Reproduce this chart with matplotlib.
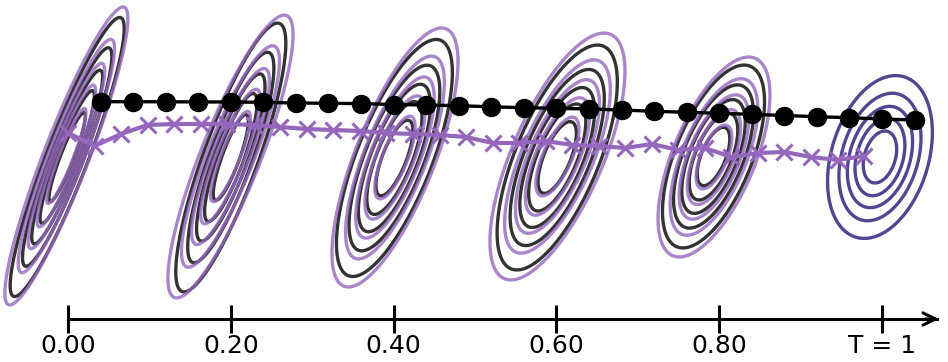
import numpy as np
import matplotlib
matplotlib.use("Agg")
import matplotlib.pyplot as plt

# time grid shown on the axis
tick_times = [0.0, 0.2, 0.4, 0.6, 0.8, 1.0]
tick_labels = ["0.00", "0.20", "0.40", "0.60", "0.80", "T = 1"]

# black mean path (dots), state values (rows, downward)
mean_times = np.arange(1, 27) * 0.04
mean_state = [101.7, 101.7, 101.8, 101.9, 102.0, 102.3, 103.0, 103.3, 103.6, 104.5,
              105.0, 105.7, 106.8, 107.7, 108.3, 109.0, 110.0, 111.3, 112.3, 113.3,
              114.3, 115.5, 116.7, 117.7, 119.0, 120.0]

# purple learned path (crosses)
learned_times = np.linspace(0.0, 0.978, 31)
learned_state = [133, 146, 134, 125, 124, 124, 124, 125, 127, 129,
                 130, 131, 133, 134, 135, 137, 143, 143, 141, 145,
                 146, 148, 144, 150, 148, 157, 153, 152, 157, 160, 156]

# gaussian marginals: centre time, centre state, sd in time, sd in state, correlation
ref_t = [-0.001, 0.200, 0.401, 0.601, 0.793]
ref_y = [157.0, 157.5, 158.0, 157.5, 156.5]
ref_sdt = [0.0370, 0.0357, 0.0376, 0.0390, 0.0331]
ref_sdy = [73.7, 71.0, 62.6, 59.4, 48.3]
ref_rho = [-0.92, -0.85, -0.72, -0.67, -0.60]

fit_t = [-0.002, 0.1996, 0.4017, 0.6013, 0.7936]
fit_y = [156.0, 156.5, 157.5, 156.5, 157.0]
fit_sdt = [0.0399, 0.0406, 0.0409, 0.0438, 0.0363]
fit_sdy = [78.7, 74.7, 68.4, 65.2, 52.8]
fit_rho = [-0.92, -0.86, -0.74, -0.69, -0.62]

target_t, target_y, target_sdt, target_sdy, target_rho = 0.9975, 157.0, 0.034, 43.0, -0.30

levels = [1 / 6, 2 / 6, 3 / 6, 4 / 6, 5 / 6]


def gauss_contour(ax, mt, my, sdt, sdy, rho, **kw):
    tt = np.linspace(mt - 2.6 * sdt, mt + 2.6 * sdt, 400)
    yy = np.linspace(my - 2.6 * sdy, my + 2.6 * sdy, 400)
    T, Y = np.meshgrid(tt, yy)
    dx = (T - mt) / sdt
    dy = (Y - my) / sdy
    q = (dx ** 2 - 2 * rho * dx * dy + dy ** 2) / (1 - rho ** 2)
    ax.contour(T, Y, np.exp(-0.5 * q), levels=levels, **kw)


fig = plt.figure(figsize=(9.48, 3.62), dpi=100)
ax = fig.add_axes([0, 0, 1, 1])

for i in range(len(ref_t)):
    gauss_contour(ax, ref_t[i], ref_y[i], ref_sdt[i], ref_sdy[i], ref_rho[i],
                  colors="black", alpha=0.8, linewidths=2.4, zorder=2)
    gauss_contour(ax, fit_t[i], fit_y[i], fit_sdt[i], fit_sdy[i], fit_rho[i],
                  colors="#9467bd", alpha=0.8, linewidths=2.4, zorder=3)
gauss_contour(ax, target_t, target_y, target_sdt, target_sdy, target_rho,
              colors="#483d8b", alpha=0.95, linewidths=2.4, zorder=3)

ax.plot(mean_times, mean_state, color="black", lw=2.4, marker="o", ms=13, zorder=5)
ax.plot(learned_times, learned_state, color="#9467bd", lw=3, marker="x", ms=11,
        mew=2.2, zorder=4)

ax.set_xlim(-68 / 814, 880 / 814)
ax.set_ylim(362, 0)

# time axis with arrow
for s in ["top", "left", "right"]:
    ax.spines[s].set_visible(False)
ax.spines["bottom"].set_position(("data", 319))
ax.spines["bottom"].set_linewidth(2.2)
ax.spines["bottom"].set_bounds(0, 1.068)
ax.annotate("", xy=(1.073, 319), xytext=(1.05, 319),
            arrowprops=dict(arrowstyle="->", lw=2.2, color="black",
                            mutation_scale=22))
ax.set_xticks(tick_times)
ax.set_xticklabels(tick_labels)
ax.tick_params(axis="x", direction="inout", length=20, width=2.2, labelsize=18, pad=1)
ax.set_yticks([])

fig.savefig("out.png", dpi=100)
